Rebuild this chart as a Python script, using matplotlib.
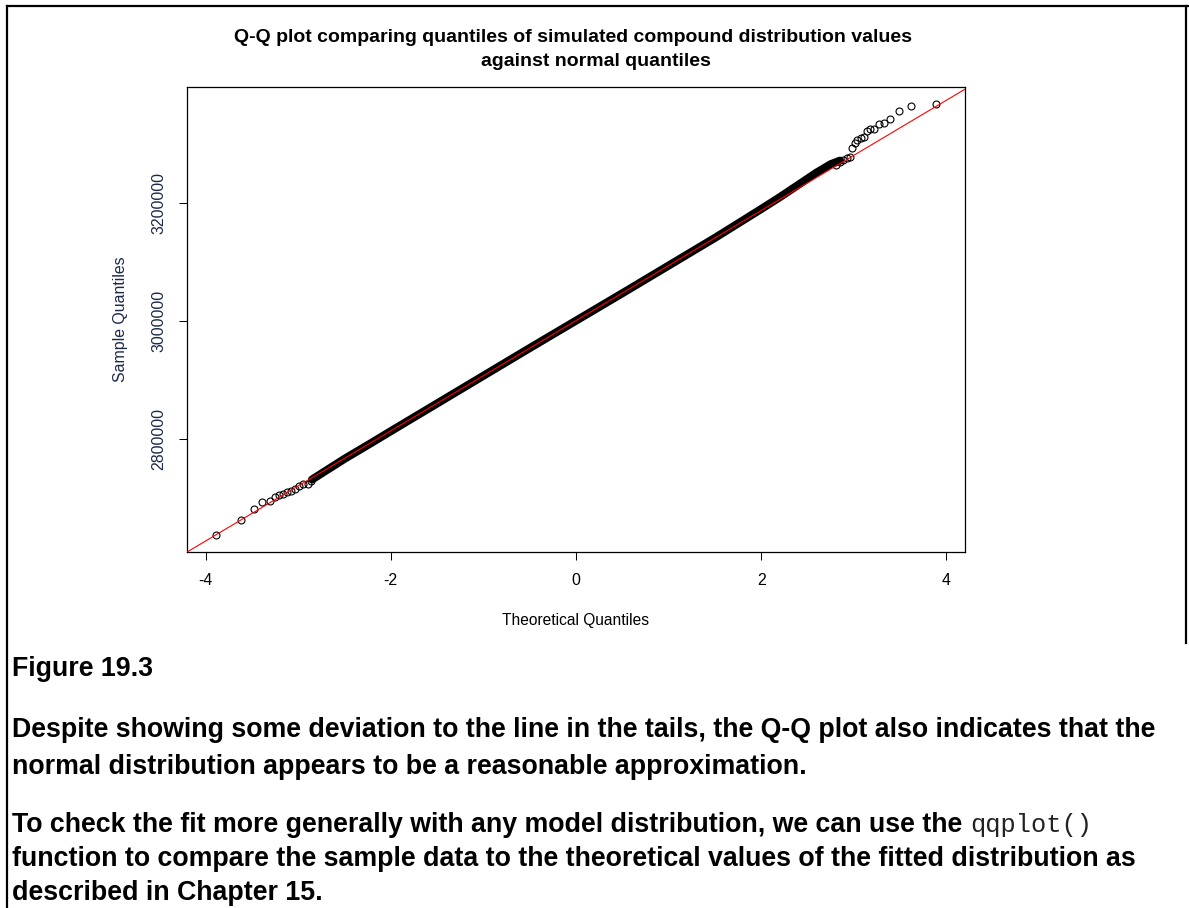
import matplotlib.pyplot as plt
from matplotlib.lines import Line2D

W, H = 1189, 908

# lower tail of the sample (theoretical quantile, sample quantile)
lower_x = [-3.884, -3.618, -3.476, -3.391, -3.308, -3.254, -3.208, -3.164,
           -3.121, -3.078, -3.038, -2.991, -2.948, -2.894, -2.857]
lower_y = [2637300, 2662700, 2681000, 2693400, 2695300, 2700500, 2704600, 2706800,
           2710200, 2711900, 2715300, 2719800, 2723200, 2724200, 2729300]

# dense middle of the sample, traced along the centre of the point cloud
band_x = [-2.85, -2.7, -2.5, -2.2, -2.0, -1.5, -1.0, -0.5, 0.0,
          0.5, 1.0, 1.5, 2.0, 2.2, 2.4, 2.6, 2.75, 2.85]
band_y = [2731000, 2746000, 2766000, 2794000, 2813000, 2860000, 2907000, 2954000, 3000500,
          3047000, 3094000, 3141000, 3190000, 3210000, 3231000, 3252000, 3266000, 3272000]

# upper tail of the sample
upper_x = [2.81, 2.847, 2.883, 2.926, 2.955, 2.981, 3.009, 3.038, 3.078, 3.106,
           3.143, 3.178, 3.222, 3.276, 3.330, 3.391, 3.492, 3.622, 3.892]
upper_y = [3264400, 3269000, 3272900, 3276300, 3278000, 3293200, 3302200, 3306300, 3310700, 3312400,
           3322000, 3324900, 3324900, 3334400, 3335100, 3342400, 3357100, 3364900, 3367800]

# qqline through the quartiles
qq_intercept = 3000600
qq_slope = 93500

xticks = [-4, -2, 0, 2, 4]
xticklabels = ['-4', '-2', '0', '2', '4']
yticks = [2800000, 3000000, 3200000]
yticklabels = ['2800000', '3000000', '3200000']

title_1 = 'Q-Q plot comparing quantiles of simulated compound distribution values'
title_2 = 'against normal quantiles'

caption = 'Figure 19.3'
para_1 = ['Despite showing some deviation to the line in the tails, the Q-Q plot also indicates that the',
          'normal distribution appears to be a reasonable approximation.']
para_2 = ['To check the fit more generally with any model distribution, we can use the',
          'function to compare the sample data to the theoretical values of the fitted distribution as',
          'described in Chapter 15.']
code_word = 'qqplot()'

plt.rcParams['font.family'] = ['Liberation Sans', 'DejaVu Sans']
plt.rcParams['axes.unicode_minus'] = False

fig = plt.figure(figsize=(W / 100, H / 100), dpi=100)


def fx(px):
    return px / W


def fy(py):
    return 1 - py / H


ax = fig.add_axes([fx(187), fy(552), (965 - 187) / W, (552 - 87) / H])
ax.plot(band_x, band_y, color='black', lw=5.8, solid_capstyle='round', zorder=2)
ax.plot(lower_x + upper_x, lower_y + upper_y, 'o', mfc='none', mec='black',
        ms=5, mew=0.8, zorder=3)
ax.axline((0, qq_intercept), slope=qq_slope, color='red', lw=0.8, zorder=4)

ax.set_xlim(-4.2, 4.2)
ax.set_ylim(2608000, 3397000)
ax.set_xticks(xticks)
ax.set_xticklabels(xticklabels)
ax.set_yticks(yticks)
ax.set_yticklabels(yticklabels, rotation=90, va='center')
ax.tick_params(length=5.8, width=0.75, labelsize=11.4, pad=9)
ax.tick_params(axis='y', labelcolor='#1c2848')
for s in ax.spines.values():
    s.set_linewidth(0.9)

fig.text(fx(120), fy(319.5), 'Sample Quantiles', rotation=90, ha='center', va='center',
         fontsize=11.4, color='#1c2848')
fig.text(fx(576), fy(621), 'Theoretical Quantiles', ha='center', va='center', fontsize=11.2)

fig.text(fx(573), fy(38), title_1, ha='center', va='center', fontsize=14, fontweight='bold')
fig.text(fx(596), fy(61), title_2, ha='center', va='center', fontsize=14, fontweight='bold')

# body text below the figure, sized so the first line spans the page width
renderer = fig.canvas.get_renderer()
probe = fig.text(fx(12), fy(730), para_1[0], ha='left', va='center', fontsize=16, fontweight='bold')
body_size = 16 * 1144 / probe.get_window_extent(renderer).width
probe.remove()

fig.text(fx(12), fy(669), caption, ha='left', va='center', fontsize=body_size, fontweight='bold')
for line, py in zip(para_1, [730, 767]):
    fig.text(fx(12), fy(py), line, ha='left', va='center', fontsize=body_size, fontweight='bold')
lines_2 = []
for line, py in zip(para_2, [825, 859, 893]):
    lines_2.append(fig.text(fx(12), fy(py), line, ha='left', va='center',
                            fontsize=body_size, fontweight='bold'))
end_px = lines_2[0].get_window_extent(renderer).x1
fig.text((end_px + 0.3 * body_size * 100 / 72) / W, fy(825), code_word, ha='left', va='center',
         fontsize=body_size * 0.95, color='#222222', family=['Liberation Mono', 'DejaVu Sans Mono'])

# page frame
for xs, ys in [([7, W], [5.5, 5.5]), ([7, 7], [5.5, H]), ([1186, 1186], [5.5, 643])]:
    fig.add_artist(Line2D([fx(x) for x in xs], [fy(y) for y in ys], color='black', lw=1.6,
                          transform=fig.transFigure))

fig.savefig('out.png', dpi=100)
